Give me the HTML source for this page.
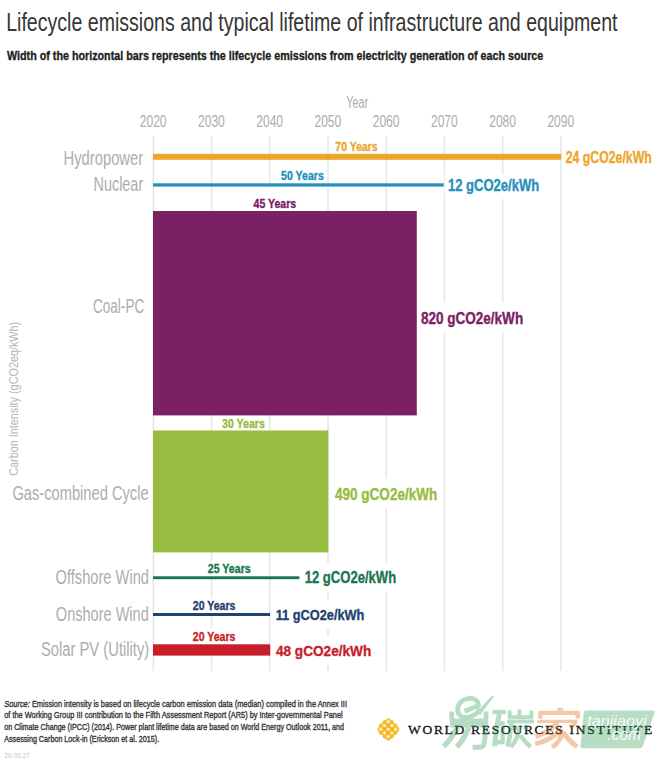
<!DOCTYPE html>
<html><head><meta charset="utf-8"><style>
html,body{margin:0;padding:0;background:#fff;}
svg{display:block;}

</style></head><body>
<svg width="661" height="759" viewBox="0 0 661 759" font-family="Liberation Sans, sans-serif">
<rect width="661" height="759" fill="#fff"/>
<rect x="152.55" y="135.8" width="1.5" height="535.2" fill="#e6e6e6"/>
<rect x="210.79" y="135.8" width="1.5" height="535.2" fill="#e6e6e6"/>
<rect x="269.03" y="135.8" width="1.5" height="535.2" fill="#e6e6e6"/>
<rect x="327.27" y="135.8" width="1.5" height="535.2" fill="#e6e6e6"/>
<rect x="385.51" y="135.8" width="1.5" height="535.2" fill="#e6e6e6"/>
<rect x="443.75" y="135.8" width="1.5" height="535.2" fill="#e6e6e6"/>
<rect x="501.99" y="135.8" width="1.5" height="535.2" fill="#e6e6e6"/>
<rect x="560.23" y="135.8" width="1.5" height="535.2" fill="#e6e6e6"/>
<rect x="332.7" y="137.0" width="47.8" height="16.5" fill="#fff"/>
<rect x="278.2" y="167.0" width="48.4" height="16.0" fill="#fff"/>
<rect x="250.6" y="186.5" width="48.4" height="24.4" fill="#fff"/>
<rect x="219.2" y="415.4" width="48.4" height="15.6" fill="#fff"/>
<rect x="205.1" y="560.2" width="48.4" height="16.0" fill="#fff"/>
<rect x="190.1" y="597.5" width="48.1" height="15.7" fill="#fff"/>
<rect x="190.1" y="628.0" width="48.1" height="16.0" fill="#fff"/>
<rect x="444.7" y="174.4" width="97.9" height="24.5" fill="#fff"/>
<rect x="417.3" y="302.3" width="109.3" height="29.8" fill="#fff"/>
<rect x="331.0" y="478.6" width="109.7" height="29.4" fill="#fff"/>
<rect x="301.5" y="562.8" width="98.1" height="29.0" fill="#fff"/>
<rect x="272.5" y="600.3" width="95.3" height="28.6" fill="#fff"/>
<rect x="271.9" y="636.3" width="102.7" height="28.6" fill="#fff"/>

<rect x="153" y="153.8" width="408.3" height="6" fill="#EDA62D"/>
<rect x="153" y="183.3" width="290.7" height="3.3" fill="#2690BD"/>
<rect x="153" y="211" width="263.8" height="204.4" fill="#7B2062"/>
<rect x="153" y="430.5" width="175.3" height="121.9" fill="#98BC3F"/>
<rect x="153" y="576.3" width="146.4" height="2.9" fill="#1B754F"/>
<rect x="153" y="613" width="117" height="3" fill="#1F426E"/>
<rect x="153" y="644.3" width="117.2" height="11.3" fill="#C91E2A"/>

<text transform="translate(6.17 30.90) scale(0.7566 1)" font-size="25.88" fill="#363636">Lifecycle emissions and typical lifetime of infrastructure and equipment</text>
<text transform="translate(7.00 59.60) scale(0.8485 1)" font-size="12.66" font-weight="bold" stroke="#1e1e1e" stroke-width="0.35" fill="#1e1e1e">Width of the horizontal bars represents the lifecycle emissions from electricity generation of each source</text>
<text transform="translate(346.23 107.60) scale(0.6935 1)" font-size="15.64" fill="#adadad">Year</text>
<text transform="translate(139.73 126.80) scale(0.7449 1)" font-size="16.21" fill="#adadad">2020</text>
<text transform="translate(197.97 126.80) scale(0.7449 1)" font-size="16.21" fill="#adadad">2030</text>
<text transform="translate(256.21 126.80) scale(0.7449 1)" font-size="16.21" fill="#adadad">2040</text>
<text transform="translate(314.45 126.80) scale(0.7449 1)" font-size="16.21" fill="#adadad">2050</text>
<text transform="translate(372.69 126.80) scale(0.7449 1)" font-size="16.21" fill="#adadad">2060</text>
<text transform="translate(430.93 126.80) scale(0.7449 1)" font-size="16.21" fill="#adadad">2070</text>
<text transform="translate(489.17 126.80) scale(0.7449 1)" font-size="16.21" fill="#adadad">2080</text>
<text transform="translate(547.41 126.80) scale(0.7449 1)" font-size="16.21" fill="#adadad">2090</text>
<text transform="translate(63.54 164.80) scale(0.7427 1)" font-size="19.91" fill="#adadad">Hydropower</text>
<text transform="translate(93.47 191.30) scale(0.7258 1)" font-size="19.91" fill="#adadad">Nuclear</text>
<text transform="translate(92.96 313.30) scale(0.6819 1)" font-size="19.91" fill="#adadad">Coal-PC</text>
<text transform="translate(12.41 499.70) scale(0.7375 1)" font-size="19.91" fill="#adadad">Gas-combined Cycle</text>
<text transform="translate(55.61 583.80) scale(0.7361 1)" font-size="19.91" fill="#adadad">Offshore Wind</text>
<text transform="translate(55.82 620.50) scale(0.7413 1)" font-size="19.63" fill="#adadad">Onshore Wind</text>
<text transform="translate(40.94 655.50) scale(0.7478 1)" font-size="19.77" fill="#adadad">Solar PV (Utility)</text>
<text transform="translate(335.37 150.50) scale(0.7758 1)" font-size="13.51" font-weight="bold" stroke="#EDA62D" stroke-width="0.35" fill="#EDA62D">70 Years</text>
<text transform="translate(281.03 180.00) scale(0.8274 1)" font-size="12.80" font-weight="bold" stroke="#2690BD" stroke-width="0.35" fill="#2690BD">50 Years</text>
<text transform="translate(253.60 207.90) scale(0.7891 1)" font-size="13.37" font-weight="bold" stroke="#7B2062" stroke-width="0.35" fill="#7B2062">45 Years</text>
<text transform="translate(222.03 428.00) scale(0.8659 1)" font-size="12.23" font-weight="bold" stroke="#98BC3F" stroke-width="0.35" fill="#98BC3F">30 Years</text>
<text transform="translate(207.77 573.20) scale(0.8307 1)" font-size="12.80" font-weight="bold" stroke="#1B754F" stroke-width="0.35" fill="#1B754F">25 Years</text>
<text transform="translate(192.77 610.20) scale(0.8532 1)" font-size="12.37" font-weight="bold" stroke="#1F426E" stroke-width="0.35" fill="#1F426E">20 Years</text>
<text transform="translate(192.77 641.00) scale(0.8248 1)" font-size="12.80" font-weight="bold" stroke="#C91E2A" stroke-width="0.35" fill="#C91E2A">20 Years</text>
<text transform="translate(565.72 162.60) scale(0.7787 1)" font-size="15.79" font-weight="bold" stroke="#EDA62D" stroke-width="0.35" fill="#EDA62D">24 gCO2e/kWh</text>
<text transform="translate(447.88 190.90) scale(0.7976 1)" font-size="16.36" font-weight="bold" stroke="#2690BD" stroke-width="0.35" fill="#2690BD">12 gCO2e/kWh</text>
<text transform="translate(420.88 323.60) scale(0.8071 1)" font-size="16.78" font-weight="bold" stroke="#7B2062" stroke-width="0.35" fill="#7B2062">820 gCO2e/kWh</text>
<text transform="translate(335.00 499.50) scale(0.8353 1)" font-size="16.21" font-weight="bold" stroke="#98BC3F" stroke-width="0.35" fill="#98BC3F">490 gCO2e/kWh</text>
<text transform="translate(304.68 583.30) scale(0.8357 1)" font-size="15.64" font-weight="bold" stroke="#1B754F" stroke-width="0.35" fill="#1B754F">12 gCO2e/kWh</text>
<text transform="translate(275.70 620.40) scale(0.8471 1)" font-size="15.08" font-weight="bold" stroke="#1F426E" stroke-width="0.35" fill="#1F426E">11 gCO2e/kWh</text>
<text transform="translate(275.90 656.40) scale(0.9034 1)" font-size="15.08" font-weight="bold" stroke="#C91E2A" stroke-width="0.35" fill="#C91E2A">48 gCO2e/kWh</text>
<text transform="translate(17.6 475.81) rotate(-90) scale(0.7936 1)" font-size="13.65" fill="#b5b5b5">Carbon Intensity (gCO2eq/kWh)</text>
<g fill="#383838" stroke="#383838" stroke-width="0.4">
<text x="4.2" y="706.6" font-size="9.9" textLength="342.8" lengthAdjust="spacingAndGlyphs"><tspan font-style="italic">Source:</tspan> Emission intensity is based on lifecycle carbon emission data (median) compiled in the Annex III</text>
<text x="4.2" y="718.4" font-size="9.9" textLength="338.5" lengthAdjust="spacingAndGlyphs">of the Working Group III contribution to the Fifth Assessment Report (AR5) by Inter-governmental Panel</text>
<text x="4.2" y="730.1" font-size="9.9" textLength="339.9" lengthAdjust="spacingAndGlyphs">on Climate Change (IPCC) (2014). Power plant lifetime data are based on World Energy Outlook 2011, and</text>
<text x="4.2" y="742.0" font-size="9.9" textLength="155.0" lengthAdjust="spacingAndGlyphs">Assessing Carbon Lock-in (Erickson et al. 2015).</text>
</g>
<text x="4.3" y="757.7" font-size="6.6" fill="#c4c4c4" textLength="25.5" lengthAdjust="spacingAndGlyphs">20.03.27</text>
<g id="wrilogo">
<rect x="379.9" y="720.9" width="17" height="17" rx="2.4" fill="#F5BD2E" transform="rotate(45 388.4 729.4)"/>
<g fill="#F5BD2E"><circle cx="391.2" cy="722.5" r="2.6"/><circle cx="394.9" cy="726.2" r="2.6"/><circle cx="394.9" cy="732.2" r="2.6"/><circle cx="391.2" cy="735.9" r="2.6"/><circle cx="385.2" cy="735.9" r="2.6"/><circle cx="381.5" cy="732.2" r="2.6"/><circle cx="381.5" cy="726.2" r="2.6"/><circle cx="385.2" cy="722.5" r="2.6"/></g>
<g stroke="#EFA526" stroke-width="1" opacity="0.85">
<path d="M382.6,727.3 L390.4,735.1 M386.2,723.6 L394.1,731.5 M382.6,731.3 L390.4,723.5 M386.2,735.0 L394.1,727.1"/>
</g>
<g fill="#FDEFB0">
<circle cx="388.2" cy="721.8" r="1.7"/><circle cx="384.5" cy="725.5" r="1.7"/><circle cx="391.9" cy="725.5" r="1.7"/>
<circle cx="380.8" cy="729.2" r="1.7"/><circle cx="388.2" cy="729.2" r="1.7"/><circle cx="395.6" cy="729.2" r="1.7"/>
<circle cx="384.5" cy="732.9" r="1.7"/><circle cx="391.9" cy="732.9" r="1.7"/><circle cx="388.2" cy="736.6" r="1.7"/>
</g>
</g>
<text x="408.0" y="734.0" font-family="Liberation Serif" font-size="13.5" fill="#151515" stroke="#151515" stroke-width="0.3" textLength="244.2" lengthAdjust="spacing">WORLD RESOURCES INSTITUTE</text>
<g>
<g opacity="0.33" fill="none" stroke="#25984F" stroke-width="5.2" stroke-linecap="butt" stroke-linejoin="round">
<!-- 易 -->
<path d="M464.5,711.2 L478.4,705.8 C478.4,700.6 474.5,698.2 469.8,698.4 C462.4,698.8 457.8,703.4 457.6,709.2 C457.4,714.8 461.4,717.6 466.2,717.4 C472,717.1 476.5,714 480.5,709.6" stroke-width="4.8"/>
<path d="M478.2,712.2 C483,707 487.5,701.5 492.6,696.8 C488,702 483.5,708.6 480,713.8 Z" fill="#25984F" stroke-width="2.2"/>
<path d="M451.8,711.6 L451.8,720.8 L486,720.8 L486,711.4" stroke-width="4.8"/>
<path d="M450,725 L486,725 C485.6,733 485,740 483.6,745 C483,747 481,747.5 472.5,747.2" stroke-width="5.0"/>
<path d="M457.6,726.5 C454,734 449.5,741 443.6,746.4"/>
<path d="M469,727 C466,735 462,741.5 456.8,747"/>
<!-- 碳 -->
<path d="M492.5,712 L505.8,712" stroke-width="4.4"/>
<path d="M499.5,712.8 C497.5,722 495.6,735 494.6,746.4" stroke-width="5.0"/>
<path d="M496.6,723.2 L502.6,723.2 L502.6,742.2 L496.2,742.2" stroke-width="4.4"/>
<path d="M509.6,710.4 L509.6,717.2 L531.4,717.2 L531.4,710.4 M519.4,709.6 L519.4,717.2" stroke-width="3.8"/>
<path d="M507,721.4 L534,721.4" stroke-width="3.8"/>
<path d="M511.2,722.6 C510.6,732 509.6,740 507.4,746.6" stroke-width="4.6"/>
<path d="M519.8,726 C518.6,735 515.6,742 510.8,747 M520.4,735.4 C523.6,740 526.6,743.6 530.6,747 M514.6,725.8 L515.6,730 M526.4,725.4 L525.2,729.6" stroke-width="4.4"/>
</g>
<g opacity="0.33" fill="none" stroke="#DF5A00" stroke-width="4.4" stroke-linejoin="round">
<!-- 家 -->
<path d="M560.3,707.8 L560.3,712" stroke-width="5.8"/>
<path d="M540.3,718.6 L540.3,712.9 L577.8,712.9 L577.8,718.6"/>
<path d="M537.3,721.4 L577.4,721.4" stroke-width="3.4"/>
<path d="M557.4,722.6 C552,729 545,733.5 535.6,736.6" stroke-width="4.8"/>
<path d="M561.8,728.6 C556,735.6 547,741 535.2,744" stroke-width="4.8"/>
<path d="M562.6,731 C561.6,738 558,743.4 552,747.2" stroke-width="4.8"/>
<path d="M563.6,732.6 C567.6,738.8 572,743.2 577.4,746.8" stroke-width="4.8"/>
<path d="M569.2,726.8 L576.2,723.4" stroke-width="3.8"/>
</g>
<path d="M586,710.4 L653,710.4 Q655.4,710.4 654.6,712.6 L642.8,746.2 Q642,748.3 639.8,748.3 L582.4,748.3 Q580.2,748.3 580.4,746 L583.8,712.6 Q584,710.4 586,710.4 Z" fill="#25984F" opacity="0.33"/>
<text x="587.2" y="726" font-family="Liberation Sans" font-style="italic" font-size="14.8" fill="#fff" opacity="0.9" textLength="59.6" lengthAdjust="spacingAndGlyphs">tanjiaoyi</text>
<text x="607.4" y="739.7" font-family="Liberation Sans" font-style="italic" font-size="16" fill="#fff" opacity="0.9" textLength="33.6" lengthAdjust="spacingAndGlyphs">.com</text>
</g>

</svg>
</body></html>
